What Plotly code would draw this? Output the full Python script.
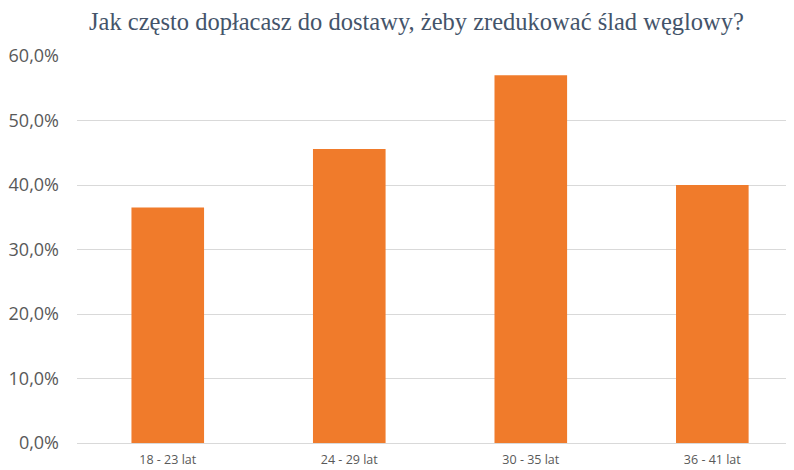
import plotly.graph_objects as go

categories = ["18 - 23 lat", "24 - 29 lat", "30 - 35 lat", "36 - 41 lat"]
values = [0.365, 0.456, 0.570, 0.400]
y_ticks = [0.0, 0.1, 0.2, 0.3, 0.4, 0.5, 0.6]
title_text = "Jak często dopłacasz do dostawy, żeby zredukować ślad węglowy?"

fig = go.Figure()
fig.add_trace(go.Bar(
    x=categories,
    y=values,
    width=0.4,
    marker=dict(color="#F07B2B", line=dict(width=0)),
    hoverinfo="x+y",
))

fig.update_layout(
    width=786,
    height=462,
    margin=dict(l=69, r=0, t=48, b=27),
    paper_bgcolor="white",
    plot_bgcolor="white",
    separators=", ",
    showlegend=False,
    title=dict(
        text=title_text,
        x=0.5197,
        xanchor="center",
        y=0.970,
        yanchor="middle",
        font=dict(family="Liberation Serif, Times New Roman, serif", size=24.5, color="#44546A"),
    ),
    xaxis=dict(
        type="category",
        range=[-0.5, 3.45],
        showgrid=False,
        showline=False,
        zeroline=False,
        ticks="",
        tickfont=dict(family="Open Sans, sans-serif", size=12.5, color="#595959"),
        ticklabelstandoff=7,
    ),
    yaxis=dict(
        range=[0, 0.6],
        tickvals=y_ticks,
        tickformat=".1%",
        showgrid=True,
        gridcolor="#D9D9D9",
        gridwidth=1,
        zeroline=True,
        zerolinecolor="#D9D9D9",
        zerolinewidth=1,
        showline=False,
        ticks="",
        tickfont=dict(family="Open Sans, sans-serif", size=18, color="#595959"),
        ticklabelstandoff=17,
    ),
)

fig.write_html("out.html")
